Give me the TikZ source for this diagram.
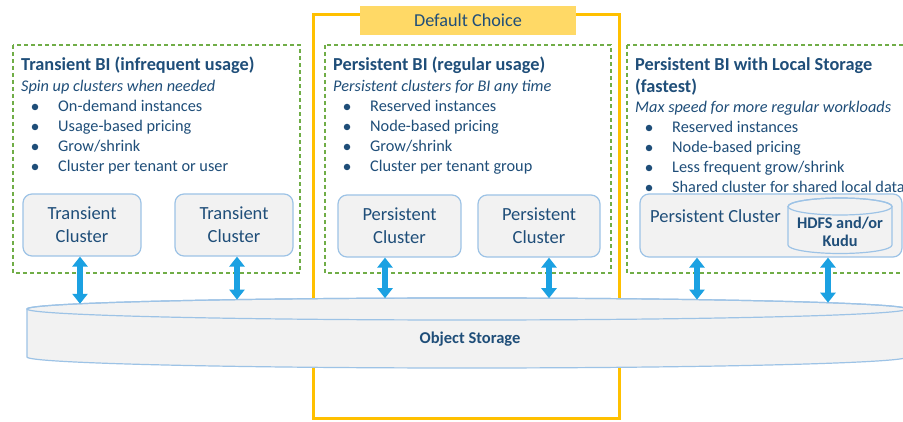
\documentclass[tikz,border=0pt]{standalone}
\usepackage{fontspec}
\setmainfont{Carlito}
\usetikzlibrary{arrows.meta}
\definecolor{navy}{HTML}{1F4E79}
\definecolor{gold}{HTML}{FFC000}
\definecolor{goldfill}{HTML}{FFD966}
\definecolor{leaf}{HTML}{70AD47}
\definecolor{sky}{HTML}{9DC3E6}
\definecolor{cloud}{HTML}{F2F2F2}
\definecolor{arrowblue}{HTML}{1BA1E2}
\tikzset{
  group/.style={draw=leaf, line width=1.3pt, dash pattern=on 4pt off 3pt},
  clusterbox/.style={draw=sky, line width=1.2pt, fill=cloud, rounded corners=9pt},
  clustertext/.style={text=navy, font=\fontsize{18.5}{23}\selectfont, align=center},
  title/.style={anchor=base west, text=navy, font=\fontsize{18.3}{22}\bfseries\selectfont, inner sep=0pt},
  subtitle/.style={anchor=base west, text=navy, font=\fontsize{16.3}{19}\itshape\selectfont, inner sep=0pt},
  item/.style={anchor=base west, text=navy, font=\fontsize{16.3}{19}\selectfont, inner sep=0pt},
  dot/.style={circle, fill=navy, inner sep=0pt, minimum size=6.5pt},
  link/.style={draw=arrowblue, line width=6pt,
    {Triangle[width=15pt,length=10pt]}-{Triangle[width=15pt,length=10pt]}}
}
\begin{document}
\begin{tikzpicture}[x=1pt,y=-1pt]
\useasboundingbox (0,0) rectangle (903,422);
\clip (0,0) rectangle (903,422);
\fill[white] (0,0) rectangle (903,422);

% default-choice frame
\draw[gold, line width=3pt] (313,14.5) rectangle (619,418);
\node[fill=goldfill, minimum width=216pt, minimum height=29pt, inner sep=0pt,
      text=navy, font=\fontsize{18.2}{22}\selectfont] (default) at (468,20.5) {Default Choice};

% three usage groups
\draw[group] (13,45) rectangle (300,273);
\draw[group] (325,45) rectangle (611,273);
\draw[group] (627,45) rectangle (915,273);

% group 1: transient
\node[title] (t1) at (21,71) {Transient BI (infrequent usage)};
\node[subtitle] (s1) at (21,92) {Spin up clusters when needed};
\foreach \y/\txt [count=\i] in {112/{On-demand instances}, 132/{Usage-based pricing}, 152/{Grow/shrink}, 172/{Cluster per tenant or user}}{
  \node[dot] (ad\i) at (35,\y-5) {};
  \node[item] (a\i) at (58,\y) {\txt};
}

% group 2: persistent
\node[title] (t2) at (333,71) {Persistent BI (regular usage)};
\node[subtitle] (s2) at (333,92) {Persistent clusters for BI any time};
\foreach \y/\txt [count=\i] in {112/{Reserved instances}, 132/{Node-based pricing}, 152/{Grow/shrink}, 172/{Cluster per tenant group}}{
  \node[dot] (bd\i) at (347,\y-5) {};
  \node[item] (b\i) at (370,\y) {\txt};
}

% group 3: persistent with local storage
\node[title] (t3) at (635,71) {Persistent BI with Local Storage};
\node[title] (t3b) at (635,93) {(fastest)};
\node[subtitle] (s3) at (635,113) {Max speed for more regular workloads};
\foreach \y/\txt [count=\i] in {133/{Reserved instances}, 153/{Node-based pricing}, 173/{Less frequent grow/shrink}, 193/{Shared cluster for shared local data}}{
  \node[dot] (cd\i) at (649,\y-5) {};
  \node[item] (c\i) at (672,\y) {\txt};
}

% clusters
\node[clusterbox, clustertext, minimum width=118pt, minimum height=62pt] (k1) at (82,225) {Transient\\Cluster};
\node[clusterbox, clustertext, minimum width=118pt, minimum height=62pt] (k2) at (234,225) {Transient\\Cluster};
\node[clusterbox, clustertext, minimum width=123pt, minimum height=62pt] (k3) at (399.5,226) {Persistent\\Cluster};
\node[clusterbox, clustertext, minimum width=122pt, minimum height=62pt] (k4) at (539,226) {Persistent\\Cluster};
\node[clusterbox, minimum width=262pt, minimum height=63pt] (k5) at (771,225.5) {};
\node[clustertext, anchor=west, inner sep=0pt] (k5t) at (650,216) {Persistent Cluster};

% local storage cylinder
\filldraw[draw=sky, line width=1.2pt, fill=cloud]
  (788,206.5) -- (788,245) arc[start angle=180, end angle=360, x radius=52pt, y radius=8.5pt]
  -- (892,206.5) arc[start angle=0, end angle=180, x radius=52pt, y radius=8.5pt] -- cycle;
\draw[sky, line width=1.2pt] (840,206.5) ellipse[x radius=52pt, y radius=8.5pt];
\node[text=navy, font=\fontsize{16.3}{18}\bfseries\selectfont, align=center] (hdfs) at (840,232) {HDFS and/or\\Kudu};

% object storage cylinder
\filldraw[draw=sky, line width=1.2pt, fill=cloud]
  (27,309) -- (27,357) arc[start angle=180, end angle=360, x radius=440pt, y radius=11pt]
  -- (907,309) arc[start angle=0, end angle=180, x radius=440pt, y radius=11pt] -- cycle;
\draw[sky, line width=1.2pt] (467,309) ellipse[x radius=440pt, y radius=11pt];
\node[text=navy, font=\fontsize{16.5}{20}\bfseries\selectfont] (store) at (470,339) {Object Storage};

% access points on the storage rim
\coordinate (p1) at (80,303.8);
\coordinate (p2) at (237,299.6);
\coordinate (p3) at (385,298.2);
\coordinate (p4) at (549,298.2);
\coordinate (p5) at (697,299.6);
\coordinate (p6) at (828,302.7);

\draw[link] (p1 |- k1.south) -- (p1);
\draw[link] (p2 |- k2.south) -- (p2);
\draw[link] (p3 |- k3.south) -- (p3);
\draw[link] (p4 |- k4.south) -- (p4);
\draw[link] (p5 |- k5.south) -- (p5);
\draw[link] (p6 |- k5.south) -- (p6);
\end{tikzpicture}
\end{document}
